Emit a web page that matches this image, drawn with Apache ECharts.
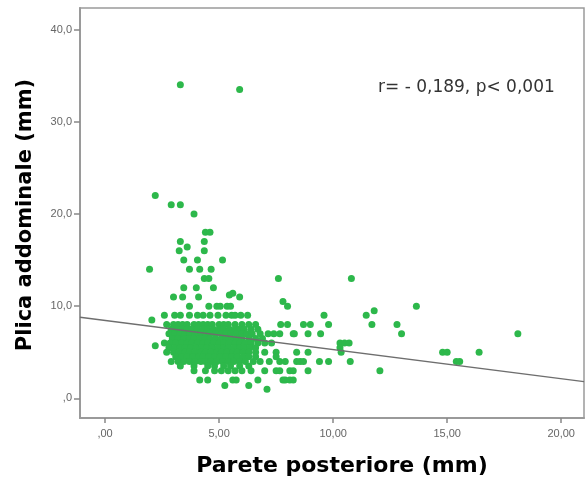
<!DOCTYPE html>
<html>
<head>
<meta charset="utf-8">
<script src="https://cdn.jsdelivr.net/npm/echarts@6/dist/echarts.min.js"></script>
<style>
html,body{margin:0;padding:0;background:#fff;}
#chart{width:587px;height:484px;}
</style>
</head>
<body>
<div id="chart"></div>
<script>
// ---- data (x = Parete posteriore mm, y = Plica addominale mm) ----
const xTicks = [0, 5, 10, 15, 20];
const yTicks = [0, 10, 20, 30, 40];
const xTitle = 'Parete posteriore (mm)';
const yTitle = 'Plica addominale (mm)';
const annotation = 'r= - 0,189, p< 0,001';
const regIntercept = 8.45;
const regSlope = -0.316;

const highPoints = [
  [3.3,34],[5.9,33.5],[2.2,22],[2.9,21],[3.3,21],[3.9,20],[4.4,18],[4.6,18],
  [3.3,17],[4.35,17],[3.6,16.4],[3.25,16],[4.35,16],[3.45,15],[4.05,15],[5.15,15],
  [1.95,14],[3.7,14],[4.15,14],[4.65,14],[4.35,13],[4.55,13],[7.6,13],[10.8,13]
];
const upperPoints = [
  [3.45,12],[4.0,12],[4.75,12],
  [3.0,11],[3.4,11],[4.1,11],[5.45,11.2],[5.6,11.4],[5.9,11],
  [7.8,10.5],
  [3.7,10],[4.55,10],[4.9,10],[5.05,10],[5.35,10],[5.5,10],[8.0,10],[13.65,10],
  [11.8,9.5],
  [2.6,9],[3.05,9],[3.3,9],[3.7,9],[4.05,9],[4.3,9],[4.6,9],[4.95,9],[5.3,9],[5.55,9],[5.7,9],[5.95,9],[6.25,9],[9.6,9],[11.45,9],
  [2.05,8.5]
];
const row8 = [2.7,3.0,3.2,3.4,3.6,3.9,4.1,4.3,4.5,4.7,5.0,5.2,5.4,5.7,6.0,6.3,6.6,7.7,8.0,8.7,9.0,9.8,11.7,12.8];
const row75 = [2.9,3.15,3.4,3.6,3.8,4.05,4.3,4.5,4.75,5.0,5.2,5.45,5.7,5.9,6.1,6.4,6.7];
const row7 = [2.8,3.05,3.3,3.5,3.7,3.95,4.2,4.4,4.6,4.85,5.1,5.3,5.5,5.75,6.0,6.2,6.45,6.8,7.15,7.4,7.66,8.25,8.3,8.9,9.45,13.0,18.1];
const row65 = [2.95,3.2,3.45,3.7,3.9,4.15,4.4,4.6,4.85,5.1,5.3,5.55,5.8,6.0,6.3,6.6,6.9];
const row6 = [2.6,2.85,3.1,3.35,3.6,3.8,4.05,4.3,4.5,4.75,5.0,5.2,5.45,5.7,5.9,6.15,6.4,6.7,7.0,7.3,10.3,10.5,10.7];
const row55 = [2.8,3.05,3.3,3.5,3.75,4.0,4.25,4.45,4.7,4.95,5.2,5.4,5.65,5.9,6.1,6.35,6.6,10.3];
const row5 = [2.7,3.0,3.25,3.5,3.7,3.95,4.2,4.4,4.65,4.9,5.1,5.35,5.6,5.8,6.05,6.3,6.6,7.0,7.5,8.4,8.9,10.35,14.8,15.0,16.4];
const row45 = [3.1,3.35,3.6,3.85,4.1,4.3,4.55,4.8,5.05,5.3,5.55,5.8,6.05,6.3,6.6,7.5];
const row4 = [2.9,3.2,3.45,3.7,3.95,4.2,4.4,4.65,4.9,5.15,5.4,5.65,5.9,6.15,6.5,6.8,7.2,7.66,7.9,8.4,8.55,8.7,9.4,9.8,10.75,15.4,15.55];
const row35 = [3.3,3.9,4.5,4.8,5.2,5.5,5.9,6.3];
const row3 = [3.9,4.4,4.8,5.1,5.4,5.7,6.0,6.4,7.0,7.5,7.66,8.1,8.25,8.9,12.05];
const row2 = [4.15,4.5,5.6,5.75,6.7,7.8,7.9,8.1,8.25];
const lowPoints = [[2.2,5.7],[5.25,1.4],[6.3,1.4],[7.1,1.0]];

// ---- build ----
const rows = [[row8,8],[row75,7.5],[row7,7],[row65,6.5],[row6,6],[row55,5.5],[row5,5],[row45,4.5],[row4,4],[row35,3.5],[row3,3],[row2,2]];
const scatterData = [].concat(highPoints, upperPoints, lowPoints);
rows.forEach(([xs, y]) => xs.forEach(x => scatterData.push([x, y])));

const xMin = -1.1, xMax = 21.0, yMin = -2.13, yMax = 42.33;
const regData = [[xMin, regIntercept + regSlope * xMin], [xMax, regIntercept + regSlope * xMax]];

const fmtX = v => (v === 0 ? '' : String(v)) + ',00';
const fmtY = v => (v === 0 ? '' : String(v)) + ',0';

const chart = echarts.init(document.getElementById('chart'), null, {renderer: 'canvas'});
const axisGrey = '#9a9a9a';
chart.setOption({
  animation: false,
  backgroundColor: '#ffffff',
  grid: {left: 80, right: 3, top: 8, bottom: 66, show: true, borderColor: axisGrey, borderWidth: 1.5, backgroundColor: 'transparent'},
  xAxis: {
    type: 'value', min: xMin, max: xMax,
    axisLine: {show: true, onZero: false, lineStyle: {color: axisGrey, width: 2}},
    axisTick: {show: true, length: 5, customValues: xTicks, lineStyle: {color: '#888', width: 1.5}},
    axisLabel: {show: true, customValues: xTicks, formatter: fmtX, margin: 10, fontSize: 11, color: '#666', fontFamily: 'Liberation Sans'},
    splitLine: {show: false}
  },
  yAxis: {
    type: 'value', min: yMin, max: yMax,
    axisLine: {show: true, onZero: false, lineStyle: {color: axisGrey, width: 2}},
    axisTick: {show: true, length: 6, customValues: yTicks, lineStyle: {color: '#888', width: 1.5}},
    axisLabel: {show: true, customValues: yTicks, formatter: fmtY, margin: 8, fontSize: 11, color: '#666', fontFamily: 'Liberation Sans'},
    splitLine: {show: false}
  },
  series: [
    {
      type: 'scatter', data: scatterData, symbol: 'circle', symbolSize: 7,
      itemStyle: {color: '#2db84b', opacity: 1}, z: 2
    },
    {
      type: 'line', data: regData, symbol: 'none', silent: true,
      lineStyle: {color: '#6e6e6e', width: 1.5}, z: 3
    }
  ],
  graphic: [
    {type: 'text', x: 378, y: 88, style: {text: annotation, font: '17px "DejaVu Sans"', fill: '#333', textAlign: 'left', textVerticalAlign: 'middle'}},
    {type: 'text', x: 342, y: 466, style: {text: xTitle, font: 'bold 22px "DejaVu Sans"', fill: '#000', textAlign: 'center', textVerticalAlign: 'middle'}},
    {type: 'text', x: 26, y: 215, rotation: Math.PI / 2, style: {text: yTitle, font: 'bold 21px "DejaVu Sans"', fill: '#000', textAlign: 'center', textVerticalAlign: 'middle'}}
  ]
});
</script>
</body>
</html>
